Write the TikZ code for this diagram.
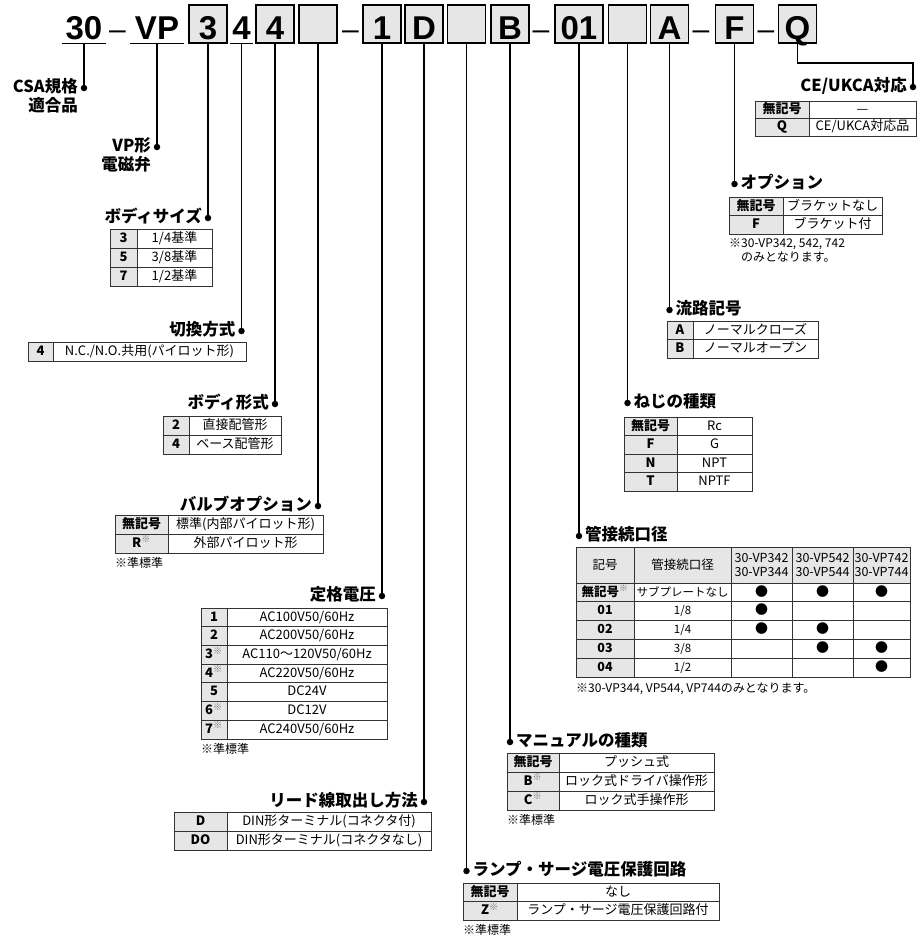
\documentclass[tikz,border=0pt]{standalone}
\usepackage{fontspec}
\setmainfont{Noto Sans CJK JP}
\newfontfamily\codefont{Liberation Sans}
\usepackage{tikz}
\usetikzlibrary{positioning}
\definecolor{CellGray}{HTML}{E6E6E6}
\newcommand{\stdmark}{\textsuperscript{\color{black!55}※}}

\begin{document}
\begin{tikzpicture}[x=1pt, y=-1pt,
  codebox/.style={draw=black, line width=1.1pt, fill=CellGray, minimum width=38, minimum height=38, inner sep=1pt, text height=33pt, text depth=2pt, font=\codefont\bfseries\fontsize{33}{33}\selectfont},
  codeplain/.style={codebox, draw=none, fill=none},
  hyph/.style={anchor=base, inner sep=0, font=\codefont\fontsize{30}{30}\selectfont},
  stem/.style={line width=1.4pt},
  dotn/.style={circle, fill=black, inner sep=0, minimum size=6.5pt},
  lbl/.style={inner xsep=1pt, inner ysep=2pt, text height=12pt, text depth=3pt, font=\bfseries\fontsize{16.5}{18}\selectfont},
  keycell/.style={draw=black!80, line width=0.8pt, fill=CellGray, anchor=north west, outer sep=0, inner sep=0, minimum height=19, text height=9.5pt, text depth=2.5pt, font=\bfseries\fontsize{13}{14}\selectfont},
  valcell/.style={keycell, fill=white, font=\fontsize{13}{14}\selectfont},
  hdrcell/.style={draw=black!80, line width=0.8pt, fill=CellGray, anchor=north west, outer sep=0, inner sep=0, minimum height=36, align=center, font=\fontsize{12.5}{14}\selectfont},
  note/.style={anchor=north west, inner sep=0, align=left, font=\fontsize{12}{14}\selectfont}]
\useasboundingbox (0,0) rectangle (917,938);

% model code
\node[codeplain, minimum width=43] (c30) at (84,24) {30};
\node[hyph] (h1) at (117.5,39.5) {–};
\node[codeplain, minimum width=53] (cVP) at (157,24) {VP};
\node[codebox] (cSize) at (208,24) {3};
\node[codeplain, minimum width=21] (cSw) at (241.5,24) {4};
\node[codebox] (cBody) at (275,24) {4};
\node[codebox] (cValve) at (318,24) {};
\node[hyph] (h2) at (350.5,39.5) {–};
\node[codebox] (cVolt) at (382,24) {1};
\node[codebox] (cLead) at (424,24) {D};
\node[codebox] (cLamp) at (466.5,24) {};
\node[codebox] (cMan) at (510,24) {B};
\node[hyph] (h3) at (541,39.5) {–};
\node[codebox, minimum width=48] (cPort) at (579,24) {01};
\node[codebox] (cThread) at (627.5,24) {};
\node[codebox] (cFlow) at (669.5,24) {A};
\node[hyph] (h4) at (701,39.5) {–};
\node[codebox] (cOpt) at (734.5,24) {F};
\node[hyph] (h5) at (766,39.5) {–};
\node[codebox] (cCE) at (797.5,24) {Q};
\foreach \u in {c30, cVP, cSw}
  \draw[stem] (\u.south west) -- (\u.south east);

% dots
\node[dotn] (dCSA) at (c30 |- 0,88) {};
\node[dotn] (dVP) at (cVP |- 0,147) {};
\node[dotn] (dSize) at (cSize |- 0,218) {};
\node[dotn] (dSw) at (cSw |- 0,331) {};
\node[dotn] (dBody) at (cBody |- 0,404) {};
\node[dotn] (dValve) at (cValve |- 0,506) {};
\node[dotn] (dVolt) at (cVolt |- 0,596) {};
\node[dotn] (dLead) at (cLead |- 0,802) {};
\node[dotn] (dLamp) at (cLamp |- 0,871) {};
\node[dotn] (dMan) at (cMan |- 0,742) {};
\node[dotn] (dPort) at (cPort |- 0,536) {};
\node[dotn] (dThread) at (cThread |- 0,403) {};
\node[dotn] (dFlow) at (cFlow |- 0,310) {};
\node[dotn] (dOpt) at (cOpt |- 0,184) {};
\node[dotn] (dCE) at (913,87) {};
\foreach \a/\b in {c30/dCSA, cVP/dVP, cSize/dSize, cSw/dSw, cBody/dBody, cValve/dValve, cVolt/dVolt, cLead/dLead, cLamp/dLamp, cMan/dMan, cPort/dPort, cThread/dThread, cFlow/dFlow, cOpt/dOpt}
  \draw[stem] (\a) -- (\b);
\draw[stem] (cCE) -- (cCE |- 0,63) -| (dCE);

% labels
\node[lbl, left=1.5pt of dCSA] (lCSA) {CSA規格};
\node[lbl, anchor=north east] (lCSA2) at (lCSA.south east) {適合品};
\node[lbl, left=1.5pt of dVP] (lVP) {VP形};
\node[lbl, anchor=north east] (lVP2) at (lVP.south east) {電磁弁};
\node[lbl, left=1.5pt of dSize] (lSize) {ボディサイズ};
\node[lbl, left=1.5pt of dSw] (lSw) {切換方式};
\node[lbl, left=1.5pt of dBody] (lBody) {ボディ形式};
\node[lbl, left=1.5pt of dValve] (lValve) {バルブオプション};
\node[lbl, left=1.5pt of dVolt] (lVolt) {定格電圧};
\node[lbl, left=1.5pt of dLead] (lLead) {リード線取出し方法};
\node[lbl, right=1.5pt of dLamp] (lLamp) {ランプ・サージ電圧保護回路};
\node[lbl, right=1.5pt of dMan] (lMan) {マニュアルの種類};
\node[lbl, right=1.5pt of dPort] (lPort) {管接続口径};
\node[lbl, right=1.5pt of dThread] (lThread) {ねじの種類};
\node[lbl, right=1.5pt of dFlow] (lFlow) {流路記号};
\node[lbl, right=1.5pt of dOpt] (lOpt) {オプション};
\node[lbl, left=1.5pt of dCE] (lCE) {CE/UKCA対応};

% tables
\foreach \k/\v [count=\i] in {3/{1/4基準}, 5/{3/8基準}, 7/{1/2基準}} {
  \node[keycell, minimum width=27] (tSize\i) at (110,{229+(\i-1)*19}) {\k};
  \node[valcell, minimum width=75] at (tSize\i.north east) {\v};
}
\node[keycell, minimum width=25] (tSw) at (28,342) {4};
\node[valcell, minimum width=193] at (tSw.north east) {N.C./N.O.共用(パイロット形)};
\foreach \k/\v [count=\i] in {2/直接配管形, 4/ベース配管形} {
  \node[keycell, minimum width=26] (tBody\i) at (163,{416+(\i-1)*19}) {\k};
  \node[valcell, minimum width=92] at (tBody\i.north east) {\v};
}
\foreach \k/\v [count=\i] in {無記号/標準(内部パイロット形), {R\stdmark}/外部パイロット形} {
  \node[keycell, minimum width=53] (tValve\i) at (115,{515+(\i-1)*19}) {\k};
  \node[valcell, minimum width=155] at (tValve\i.north east) {\v};
}
\node[note] (nValve) at ([yshift=-4pt]tValve2.south west) {※準標準};
\foreach \k/\v [count=\i] in {1/{AC100V50/60Hz}, 2/{AC200V50/60Hz}, {3\stdmark}/{AC110～120V50/60Hz}, {4\stdmark}/{AC220V50/60Hz}, 5/DC24V, {6\stdmark}/DC12V, {7\stdmark}/{AC240V50/60Hz}} {
  \node[keycell, minimum width=26] (tVolt\i) at (201,{608+(\i-1)*18.7}) {\k};
  \node[valcell, minimum width=160] at (tVolt\i.north east) {\v};
}
\node[note] (nVolt) at ([yshift=-4pt]tVolt7.south west) {※準標準};
\foreach \k/\v [count=\i] in {D/DIN形ターミナル(コネクタ付), DO/DIN形ターミナル(コネクタなし)} {
  \node[keycell, minimum width=53] (tLead\i) at (174,{812+(\i-1)*19}) {\k};
  \node[valcell, minimum width=204] at (tLead\i.north east) {\v};
}
\foreach \k/\v [count=\i] in {無記号/なし, {Z\stdmark}/ランプ・サージ電圧保護回路付} {
  \node[keycell, minimum width=54] (tLamp\i) at (463,{883+(\i-1)*18.5}) {\k};
  \node[valcell, minimum width=202] at (tLamp\i.north east) {\v};
}
\node[note] (nLamp) at ([yshift=-4pt]tLamp2.south west) {※準標準};
\foreach \k/\v [count=\i] in {無記号/プッシュ式, {B\stdmark}/ロック式ドライバ操作形, {C\stdmark}/ロック式手操作形} {
  \node[keycell, minimum width=52] (tMan\i) at (507,{753+(\i-1)*19}) {\k};
  \node[valcell, minimum width=155] at (tMan\i.north east) {\v};
}
\node[note] (nMan) at ([yshift=-4pt]tMan3.south west) {※準標準};
\node[hdrcell, minimum width=58] (pH1) at (576,547) {記号};
\node[hdrcell, minimum width=97] (pH2) at (pH1.north east) {管接続口径};
\node[hdrcell, minimum width=61] (pH3) at (pH2.north east) {30-VP342\\30-VP344};
\node[hdrcell, minimum width=61] (pH4) at (pH3.north east) {30-VP542\\30-VP544};
\node[hdrcell, minimum width=57] (pH5) at (pH4.north east) {30-VP742\\30-VP744};
\foreach \k/\v/\p/\q/\r [count=\i] in {{無記号\stdmark}/サブプレートなし/●/●/●, 01/{1/8}/●/{}/{}, 02/{1/4}/●/●/{}, 03/{3/8}/{}/●/●, 04/{1/2}/{}/{}/●} {
  \node[keycell, minimum width=58, font=\bfseries\fontsize{12.5}{14}\selectfont] (pK\i) at (576,{583+(\i-1)*18.8}) {\k};
  \node[valcell, minimum width=97, font=\fontsize{11.5}{14}\selectfont] (pV\i) at (pK\i.north east) {\v};
  \node[valcell, minimum width=61] (pA\i) at (pV\i.north east) {\p};
  \node[valcell, minimum width=61] (pB\i) at (pA\i.north east) {\q};
  \node[valcell, minimum width=57] (pC\i) at (pB\i.north east) {\r};
}
\node[note] (nPort) at ([yshift=-5pt]pK5.south west) {※30-VP344, VP544, VP744のみとなります。};
\foreach \k/\v [count=\i] in {無記号/Rc, F/G, N/NPT, T/NPTF} {
  \node[keycell, minimum width=53] (tThread\i) at (624,{417+(\i-1)*18.5}) {\k};
  \node[valcell, minimum width=75] at (tThread\i.north east) {\v};
}
\foreach \k/\v [count=\i] in {A/ノーマルクローズ, B/ノーマルオープン} {
  \node[keycell, minimum width=26] (tFlow\i) at (667,{321+(\i-1)*18.5}) {\k};
  \node[valcell, minimum width=125] at (tFlow\i.north east) {\v};
}
\foreach \k/\v [count=\i] in {無記号/ブラケットなし, F/ブラケット付} {
  \node[keycell, minimum width=54] (tOpt\i) at (729,{197+(\i-1)*18.5}) {\k};
  \node[valcell, minimum width=99] at (tOpt\i.north east) {\v};
}
\node[note] (nOpt) at ([yshift=-4pt]tOpt2.south west) {※30-VP342, 542, 742\\\phantom{※}のみとなります。};
\foreach \k/\v [count=\i] in {無記号/—, Q/{CE/UKCA対応品}} {
  \node[keycell, minimum width=54, minimum height=17.5] (tCE\i) at (755,{101+(\i-1)*17.5}) {\k};
  \node[valcell, minimum width=107, minimum height=17.5] at (tCE\i.north east) {\v};
}
\end{tikzpicture}
\end{document}
